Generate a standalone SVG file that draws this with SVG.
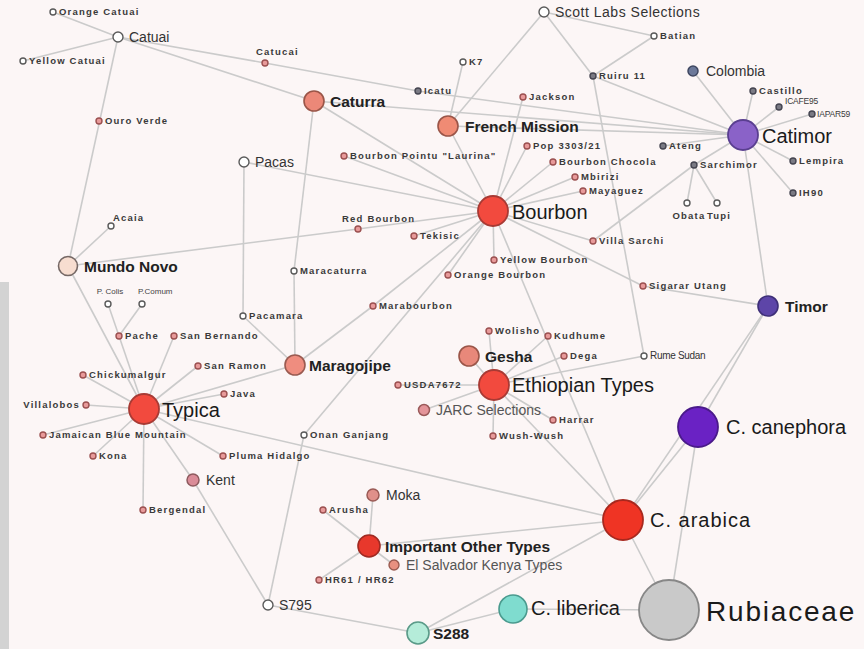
<svg xmlns="http://www.w3.org/2000/svg" width="864" height="649" viewBox="0 0 864 649">
<style>
.e{stroke:#cbcbcb;stroke-width:1.6;fill:none}
.s{fill:#e89a9a;stroke:#9b5050;stroke-width:1.4}
.h{fill:#fff;stroke:#5a5a5a;stroke-width:1.4}
.d{fill:#7a7a84;stroke:#444450;stroke-width:1.4}
text{font-family:"Liberation Sans",Arial,sans-serif}
.t{font-size:9.5px;font-weight:bold;letter-spacing:1.2px;fill:#3a3a3a}
.m{font-size:14px;fill:#333}
.b{font-size:15.5px;font-weight:bold;fill:#222}
.L{font-size:20px;fill:#1a1a1a}
.g{fill:#555}
.n{font-size:8.5px;letter-spacing:-0.2px;fill:#3a3a3a}
</style>
<rect width="864" height="649" fill="#fcf6f6"/>
<rect x="0" y="282" width="9" height="367" fill="#d3d3d3"/>
<g id="connectors" class="e">
<line x1="53" y1="12" x2="118" y2="37"/>
<line x1="23" y1="61" x2="118" y2="37"/>
<line x1="118" y1="37" x2="265" y2="63"/>
<line x1="118" y1="37" x2="314" y2="101"/>
<line x1="118" y1="37" x2="68" y2="266"/>
<line x1="265" y1="63" x2="418" y2="91"/>
<line x1="418" y1="91" x2="743" y2="135"/>
<line x1="314" y1="101" x2="743" y2="135"/>
<line x1="448" y1="126" x2="743" y2="135"/>
<line x1="314" y1="101" x2="493" y2="211"/>
<line x1="314" y1="101" x2="294" y2="271"/>
<line x1="294" y1="271" x2="295" y2="365"/>
<line x1="244" y1="162" x2="493" y2="211"/>
<line x1="244" y1="162" x2="243" y2="316"/>
<line x1="243" y1="316" x2="295" y2="365"/>
<line x1="344" y1="156" x2="493" y2="211"/>
<line x1="358" y1="229" x2="493" y2="211"/>
<line x1="68" y1="266" x2="358" y2="229"/>
<line x1="68" y1="266" x2="111" y2="226"/>
<line x1="68" y1="266" x2="144" y2="409"/>
<line x1="414" y1="236" x2="493" y2="211"/>
<line x1="493" y1="211" x2="373" y2="306"/>
<line x1="373" y1="306" x2="295" y2="365"/>
<line x1="493" y1="211" x2="304" y2="435"/>
<line x1="304" y1="435" x2="268" y2="605"/>
<line x1="493" y1="211" x2="448" y2="275"/>
<line x1="493" y1="211" x2="494" y2="260"/>
<line x1="493" y1="211" x2="593" y2="241"/>
<line x1="493" y1="211" x2="643" y2="286"/>
<line x1="493" y1="211" x2="583" y2="191"/>
<line x1="493" y1="211" x2="575" y2="177"/>
<line x1="493" y1="211" x2="553" y2="162"/>
<line x1="493" y1="211" x2="527" y2="146"/>
<line x1="493" y1="211" x2="523" y2="97"/>
<line x1="493" y1="211" x2="448" y2="126"/>
<line x1="493" y1="211" x2="623" y2="520"/>
<line x1="463" y1="62" x2="448" y2="126"/>
<line x1="544" y1="12" x2="448" y2="126"/>
<line x1="544" y1="12" x2="654" y2="36"/>
<line x1="544" y1="12" x2="593" y2="76"/>
<line x1="654" y1="36" x2="593" y2="76"/>
<line x1="593" y1="76" x2="743" y2="135"/>
<line x1="593" y1="76" x2="644" y2="356"/>
<line x1="593" y1="241" x2="694" y2="165"/>
<line x1="694" y1="165" x2="743" y2="135"/>
<line x1="694" y1="165" x2="687" y2="203"/>
<line x1="694" y1="165" x2="717" y2="203"/>
<line x1="743" y1="135" x2="693" y2="71"/>
<line x1="743" y1="135" x2="753" y2="91"/>
<line x1="743" y1="135" x2="779" y2="107"/>
<line x1="743" y1="135" x2="812" y2="114"/>
<line x1="743" y1="135" x2="793" y2="161"/>
<line x1="743" y1="135" x2="793" y2="193"/>
<line x1="743" y1="135" x2="663" y2="146"/>
<line x1="743" y1="135" x2="768" y2="306"/>
<line x1="643" y1="286" x2="768" y2="306"/>
<line x1="768" y1="306" x2="698" y2="427"/>
<line x1="768" y1="306" x2="623" y2="520"/>
<line x1="698" y1="427" x2="623" y2="520"/>
<line x1="698" y1="427" x2="669" y2="610"/>
<line x1="623" y1="520" x2="669" y2="610"/>
<line x1="513" y1="609" x2="669" y2="610"/>
<line x1="513" y1="609" x2="418" y2="633"/>
<line x1="418" y1="633" x2="623" y2="520"/>
<line x1="418" y1="633" x2="268" y2="605"/>
<line x1="268" y1="605" x2="193" y2="480"/>
<line x1="193" y1="480" x2="144" y2="409"/>
<line x1="144" y1="409" x2="119" y2="336"/>
<line x1="119" y1="336" x2="108" y2="304"/>
<line x1="119" y1="336" x2="142" y2="304"/>
<line x1="144" y1="409" x2="174" y2="336"/>
<line x1="144" y1="409" x2="83" y2="375"/>
<line x1="144" y1="409" x2="198" y2="366"/>
<line x1="144" y1="409" x2="224" y2="394"/>
<line x1="144" y1="409" x2="295" y2="365"/>
<line x1="144" y1="409" x2="86" y2="405"/>
<line x1="144" y1="409" x2="43" y2="435"/>
<line x1="144" y1="409" x2="93" y2="456"/>
<line x1="144" y1="409" x2="143" y2="510"/>
<line x1="144" y1="409" x2="223" y2="456"/>
<line x1="144" y1="409" x2="623" y2="520"/>
<line x1="494" y1="385" x2="469" y2="356"/>
<line x1="494" y1="385" x2="489" y2="331"/>
<line x1="494" y1="385" x2="548" y2="336"/>
<line x1="494" y1="385" x2="564" y2="356"/>
<line x1="494" y1="385" x2="644" y2="356"/>
<line x1="494" y1="385" x2="398" y2="385"/>
<line x1="494" y1="385" x2="424" y2="410"/>
<line x1="494" y1="385" x2="553" y2="420"/>
<line x1="494" y1="385" x2="493" y2="436"/>
<line x1="494" y1="385" x2="623" y2="520"/>
<line x1="369" y1="546" x2="373" y2="495"/>
<line x1="369" y1="546" x2="323" y2="510"/>
<line x1="369" y1="546" x2="394" y2="565"/>
<line x1="369" y1="546" x2="319" y2="580"/>
<line x1="369" y1="546" x2="623" y2="520"/>
</g>
<g id="orange-catuai"><circle class="h" cx="53" cy="12" r="3"/><text class="t" x="59" y="15">Orange Catuai</text></g>
<g id="catuai"><circle class="h" cx="118" cy="37" r="5"/><text class="m" x="129" y="42">Catuai</text></g>
<g id="yellow-catuai"><circle class="h" cx="23" cy="61" r="3"/><text class="t" x="29" y="64">Yellow Catuai</text></g>
<g id="catucai"><circle class="s" cx="265" cy="63" r="3"/><text class="t" x="256" y="55">Catucai</text></g>
<g id="ouro-verde"><circle class="s" cx="99" cy="121" r="3"/><text class="t" x="105" y="124">Ouro Verde</text></g>
<g id="pacas"><circle class="h" cx="244" cy="162" r="5"/><text class="m" x="255" y="167">Pacas</text></g>
<g id="acaia"><circle class="h" cx="111" cy="226" r="3"/><text class="t" x="113" y="221">Acaia</text></g>
<g id="mundo-novo"><circle cx="68" cy="266" r="9.5" fill="#f7ddd0" stroke="#756865" stroke-width="1.6"/><text class="b" x="84" y="272">Mundo Novo</text></g>
<g id="p-colis"><circle class="h" cx="108" cy="304" r="3"/><text x="110" y="294" font-size="8" fill="#444" text-anchor="middle">P. Colis</text></g>
<g id="p-comum"><circle class="h" cx="142" cy="304" r="3"/><text x="138" y="294" font-size="8" fill="#444">P.Comum</text></g>
<g id="pache"><circle class="s" cx="119" cy="336" r="3"/><text class="t" x="125" y="339">Pache</text></g>
<g id="san-bernando"><circle class="s" cx="174" cy="336" r="3"/><text class="t" x="180" y="339">San Bernando</text></g>
<g id="chickumalgur"><circle class="s" cx="83" cy="375" r="3"/><text class="t" x="89" y="378">Chickumalgur</text></g>
<g id="san-ramon"><circle class="s" cx="198" cy="366" r="3"/><text class="t" x="204" y="369">San Ramon</text></g>
<g id="java"><circle class="s" cx="224" cy="394" r="3"/><text class="t" x="230" y="397">Java</text></g>
<g id="villalobos"><circle class="s" cx="86" cy="405" r="3"/><text class="t" x="80" y="408" text-anchor="end">Villalobos</text></g>
<g id="typica"><circle cx="144" cy="409" r="15" fill="#f24a3e" stroke="#a83a34" stroke-width="1.8"/><text class="L" x="162" y="417">Typica</text></g>
<g id="jamaican-blue-mountain"><circle class="s" cx="43" cy="435" r="3"/><text class="t" x="49" y="438">Jamaican Blue Mountain</text></g>
<g id="kona"><circle class="s" cx="93" cy="456" r="3"/><text class="t" x="99" y="459">Kona</text></g>
<g id="pluma-hidalgo"><circle class="s" cx="223" cy="456" r="3"/><text class="t" x="229" y="459">Pluma Hidalgo</text></g>
<g id="kent"><circle cx="193" cy="480" r="6" fill="#da8c98" stroke="#8e5a5e" stroke-width="1.5"/><text class="m" x="206" y="485">Kent</text></g>
<g id="bergendal"><circle class="s" cx="143" cy="510" r="3"/><text class="t" x="149" y="513">Bergendal</text></g>
<g id="onan-ganjang"><circle class="h" cx="304" cy="435" r="3"/><text class="t" x="310" y="438">Onan Ganjang</text></g>
<g id="pacamara"><circle class="h" cx="243" cy="316" r="3"/><text class="t" x="249" y="319">Pacamara</text></g>
<g id="maracaturra"><circle class="h" cx="294" cy="271" r="3"/><text class="t" x="300" y="274">Maracaturra</text></g>
<g id="maragojipe"><circle cx="295" cy="365" r="10" fill="#ef8d7f" stroke="#9a5a50" stroke-width="1.6"/><text class="b" x="309" y="371">Maragojipe</text></g>
<g id="caturra"><circle cx="314" cy="101" r="10" fill="#ec8878" stroke="#9a5548" stroke-width="1.6"/><text class="b" x="330" y="107">Caturra</text></g>
<g id="french-mission"><circle cx="448" cy="126" r="10" fill="#f08b74" stroke="#9a5548" stroke-width="1.6"/><text class="b" x="465" y="132">French Mission</text></g>
<g id="k7"><circle class="h" cx="463" cy="62" r="3"/><text class="t" x="469" y="65">K7</text></g>
<g id="icatu"><circle class="d" cx="418" cy="91" r="3" fill="#444"/><text class="t" x="424" y="94">Icatu</text></g>
<g id="jackson"><circle class="s" cx="523" cy="97" r="3"/><text class="t" x="529" y="100">Jackson</text></g>
<g id="pop-3303-21"><circle class="s" cx="527" cy="146" r="3"/><text class="t" x="533" y="149">Pop 3303/21</text></g>
<g id="bourbon-pointu"><circle class="s" cx="344" cy="156" r="3"/><text class="t" x="350" y="159" letter-spacing="1">Bourbon Pointu "Laurina"</text></g>
<g id="bourbon-chocola"><circle class="s" cx="553" cy="162" r="3"/><text class="t" x="559" y="165">Bourbon Chocola</text></g>
<g id="mbirizi"><circle class="s" cx="575" cy="177" r="3"/><text class="t" x="581" y="180">Mbirizi</text></g>
<g id="mayaguez"><circle class="s" cx="583" cy="191" r="3"/><text class="t" x="589" y="194">Mayaguez</text></g>
<g id="bourbon"><circle cx="493" cy="211" r="15" fill="#f24a3e" stroke="#a83a34" stroke-width="1.8"/><text class="L" x="512" y="219">Bourbon</text></g>
<g id="yellow-bourbon"><circle class="s" cx="494" cy="260" r="3"/><text class="t" x="500" y="263">Yellow Bourbon</text></g>
<g id="orange-bourbon"><circle class="s" cx="448" cy="275" r="3"/><text class="t" x="454" y="278">Orange Bourbon</text></g>
<g id="villa-sarchi"><circle class="s" cx="593" cy="241" r="3"/><text class="t" x="599" y="244">Villa Sarchi</text></g>
<g id="red-bourbon"><circle class="s" cx="358" cy="229" r="3"/><text class="t" x="342" y="222" letter-spacing="0.6">Red Bourbon</text></g>
<g id="tekisic"><circle class="s" cx="414" cy="236" r="3"/><text class="t" x="420" y="239">Tekisic</text></g>
<g id="marabourbon"><circle class="s" cx="373" cy="306" r="3"/><text class="t" x="379" y="309">Marabourbon</text></g>
<g id="wolisho"><circle class="s" cx="489" cy="331" r="3"/><text class="t" x="495" y="334">Wolisho</text></g>
<g id="kudhume"><circle class="s" cx="548" cy="336" r="3"/><text class="t" x="554" y="339">Kudhume</text></g>
<g id="gesha"><circle cx="469" cy="356" r="10" fill="#e8887a" stroke="#9a5548" stroke-width="1.6"/><text class="b" x="485" y="362">Gesha</text></g>
<g id="dega"><circle class="s" cx="564" cy="356" r="3"/><text class="t" x="570" y="359">Dega</text></g>
<g id="ethiopian-types"><circle cx="494" cy="385" r="15" fill="#f24a3e" stroke="#a83a34" stroke-width="1.8"/><text class="L" x="512" y="392" font-size="19.5">Ethiopian Types</text></g>
<g id="usda7672"><circle class="s" cx="398" cy="385" r="3"/><text class="t" x="404" y="388" letter-spacing="0.8">USDA7672</text></g>
<g id="jarc-selections"><circle cx="424" cy="410" r="5.5" fill="#e4959a" stroke="#9a5a5a" stroke-width="1.5"/><text class="m g" x="436" y="415" font-size="13.5">JARC Selections</text></g>
<g id="harrar"><circle class="s" cx="553" cy="420" r="3"/><text class="t" x="559" y="423">Harrar</text></g>
<g id="wush-wush"><circle class="s" cx="493" cy="436" r="3"/><text class="t" x="499" y="439">Wush-Wush</text></g>
<g id="rume-sudan"><circle class="h" cx="644" cy="356" r="3"/><text x="650" y="359" font-size="10" letter-spacing="-0.3" fill="#333">Rume Sudan</text></g>
<g id="sigarar-utang"><circle class="s" cx="643" cy="286" r="3"/><text class="t" x="649" y="289">Sigarar Utang</text></g>
<g id="timor"><circle cx="768" cy="306" r="10" fill="#5d45a8" stroke="#3e2f78" stroke-width="1.6"/><text class="b" x="785" y="312">Timor</text></g>
<g id="c-canephora"><circle cx="698" cy="427" r="20" fill="#6a22c4" stroke="#4a1a8a" stroke-width="1.8"/><text class="L" x="726" y="434">C. canephora</text></g>
<g id="c-arabica"><circle cx="623" cy="520" r="20" fill="#ef3424" stroke="#a8281e" stroke-width="1.8"/><text class="L" x="650" y="527" letter-spacing="1">C. arabica</text></g>
<g id="rubiaceae"><circle cx="669" cy="610" r="30" fill="#c9c9c9" stroke="#878787" stroke-width="1.8"/><text x="706" y="621" font-size="28" letter-spacing="1.8" fill="#1a1a1a">Rubiaceae</text></g>
<g id="c-liberica"><circle cx="513" cy="609" r="14" fill="#7fdccf" stroke="#4a9a8e" stroke-width="1.6"/><text class="L" x="531" y="615" font-size="17.5">C. liberica</text></g>
<g id="s288"><circle cx="418" cy="633" r="11" fill="#b5ecd9" stroke="#5a9a88" stroke-width="1.6"/><text class="b" x="433" y="639" font-size="16">S288</text></g>
<g id="s795"><circle class="h" cx="268" cy="605" r="5"/><text class="m" x="279" y="610" font-size="13">S795</text></g>
<g id="important-other-types"><circle cx="369" cy="546" r="11" fill="#e8382c" stroke="#a02a22" stroke-width="1.6"/><text class="b" x="385" y="552" font-size="15">Important Other Types</text></g>
<g id="moka"><circle cx="373" cy="495" r="6" fill="#e0908a" stroke="#9a5a55" stroke-width="1.5"/><text class="m" x="386" y="500">Moka</text></g>
<g id="arusha"><circle class="s" cx="323" cy="510" r="3"/><text class="t" x="329" y="513">Arusha</text></g>
<g id="el-salvador-kenya-types"><circle cx="394" cy="565" r="5" fill="#e89080" stroke="#9a5a50" stroke-width="1.4"/><text class="m g" x="406" y="570">El Salvador Kenya Types</text></g>
<g id="hr61-hr62"><circle class="s" cx="319" cy="580" r="3"/><text class="t" x="325" y="583" letter-spacing="0.8">HR61 / HR62</text></g>
<g id="scott-labs-selections"><circle class="h" cx="544" cy="12" r="5"/><text class="m" x="555" y="17" letter-spacing="0.5">Scott Labs Selections</text></g>
<g id="batian"><circle class="h" cx="654" cy="36" r="3"/><text class="t" x="660" y="39">Batian</text></g>
<g id="ruiru-11"><circle class="d" cx="593" cy="76" r="3"/><text class="t" x="599" y="79">Ruiru 11</text></g>
<g id="colombia"><circle cx="693" cy="71" r="5" fill="#6b7899" stroke="#3e4660" stroke-width="1.5"/><text class="m" x="706" y="76" font-size="14.5">Colombia</text></g>
<g id="castillo"><circle class="d" cx="753" cy="91" r="3"/><text class="t" x="759" y="94">Castillo</text></g>
<g id="icafe95"><circle class="d" cx="779" cy="107" r="3"/><text class="n" x="785" y="104">ICAFE95</text></g>
<g id="iapar59"><circle class="d" cx="812" cy="114" r="3"/><text class="n" x="817" y="117">IAPAR59</text></g>
<g id="catimor"><circle cx="743" cy="135" r="15" fill="#8a62c8" stroke="#5a3f90" stroke-width="1.8"/><text class="L" x="762" y="143">Catimor</text></g>
<g id="ateng"><circle class="d" cx="663" cy="146" r="3"/><text class="t" x="669" y="149">Ateng</text></g>
<g id="sarchimor"><circle class="d" cx="694" cy="165" r="3"/><text class="t" x="700" y="168">Sarchimor</text></g>
<g id="lempira"><circle class="d" cx="793" cy="161" r="3"/><text class="t" x="799" y="164">Lempira</text></g>
<g id="ih90"><circle class="d" cx="793" cy="193" r="3"/><text class="t" x="799" y="196">IH90</text></g>
<g id="obata"><circle class="h" cx="687" cy="203" r="3"/><text class="t" x="689" y="219" text-anchor="middle" letter-spacing="1.5">Obata</text></g>
<g id="tupi"><circle class="h" cx="717" cy="203" r="3"/><text class="t" x="719" y="219" text-anchor="middle" letter-spacing="1.5">Tupi</text></g>
</svg>
